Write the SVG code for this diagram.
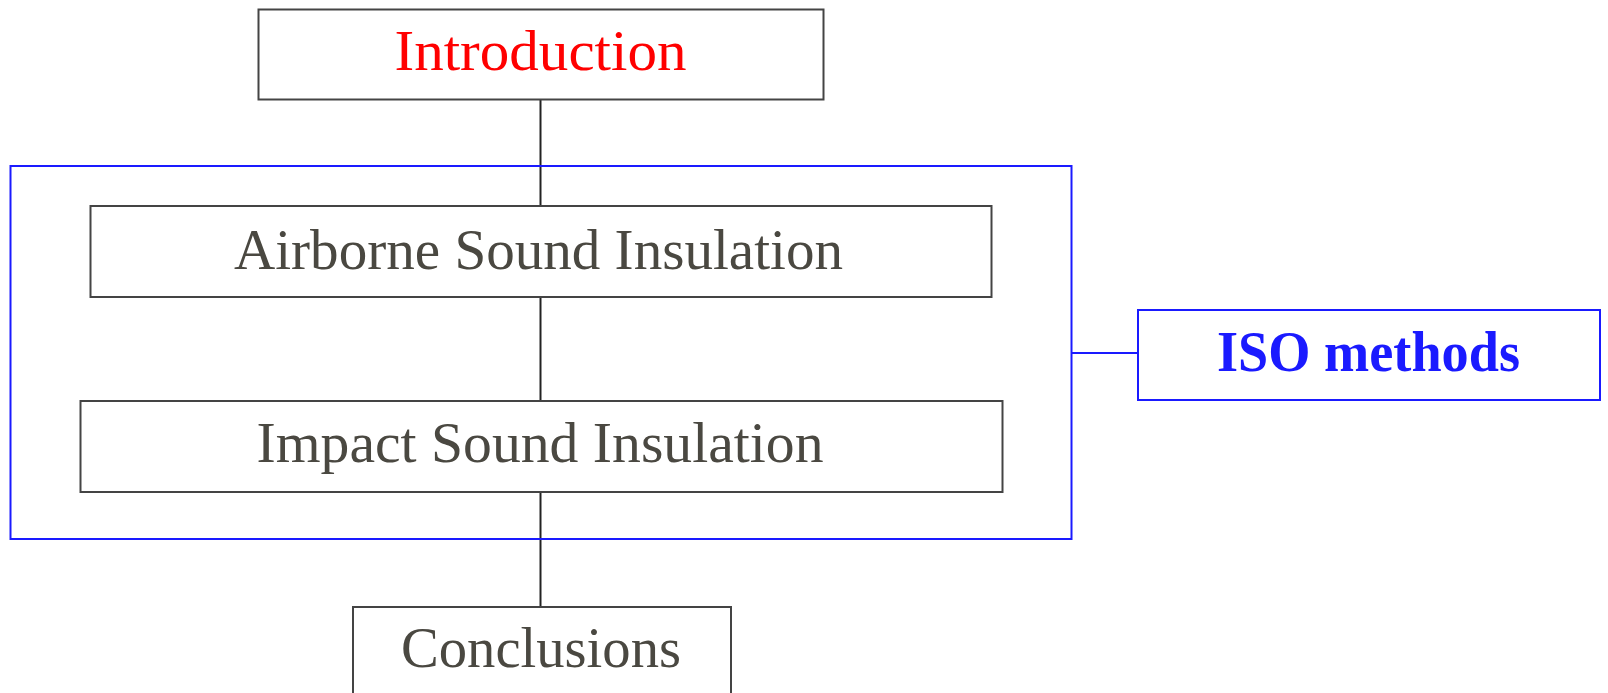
<svg xmlns="http://www.w3.org/2000/svg" width="1608" height="693" viewBox="0 0 1608 693">
<style>
.box{fill:#fff;stroke:#444;stroke-width:2}
.blue{fill:none;stroke:#1a1aff;stroke-width:2}
.t{font-family:"Liberation Serif",serif;font-size:58px;fill:#4a4841;text-anchor:middle}
.conn{stroke:#222;stroke-width:2;fill:none}
</style>
<rect width="1608" height="693" fill="#fff"/>
<g id="connectors">
<line class="conn" x1="540.5" y1="99.5" x2="540.5" y2="206"/>
<line class="conn" x1="540.5" y1="297" x2="540.5" y2="401"/>
<line class="conn" x1="540.5" y1="492" x2="540.5" y2="607"/>
<line class="blue" x1="1071.5" y1="353" x2="1138" y2="353"/>
</g>
<g id="iso-group">
<rect class="blue" x="10.5" y="166" width="1061" height="373"/>
</g>
<g id="introduction">
<rect class="box" x="258.5" y="9.5" width="565" height="90"/>
<text class="t" x="540.5" y="70" fill="#ff0000" style="fill:#ff0000" textLength="292" lengthAdjust="spacingAndGlyphs">Introduction</text>
</g>
<g id="airborne">
<rect class="box" x="90.5" y="206" width="901" height="91"/>
<text class="t" x="538.5" y="268.5" textLength="609" lengthAdjust="spacingAndGlyphs">Airborne Sound Insulation</text>
</g>
<g id="impact">
<rect class="box" x="80.5" y="401" width="922" height="91"/>
<text class="t" x="540" y="461.5" textLength="567" lengthAdjust="spacingAndGlyphs">Impact Sound Insulation</text>
</g>
<g id="conclusions">
<rect class="box" x="353" y="607" width="378" height="100"/>
<text class="t" x="541" y="666.5" textLength="280" lengthAdjust="spacingAndGlyphs">Conclusions</text>
</g>
<g id="iso-methods">
<rect class="blue" x="1138" y="310" width="462" height="90"/>
<text class="t" x="1368.5" y="371" style="fill:#1a1aff;font-weight:bold;font-size:56px" textLength="303" lengthAdjust="spacingAndGlyphs">ISO methods</text>
</g>
</svg>
